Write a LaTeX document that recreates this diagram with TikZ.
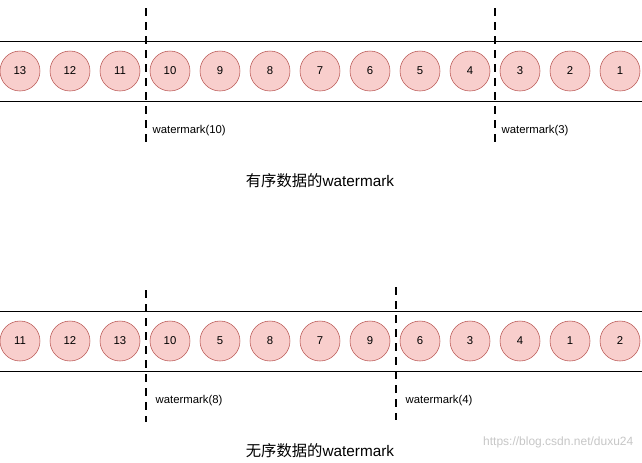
\documentclass[tikz,border=0pt]{standalone}
\usepackage{fontspec}
\setmainfont{Liberation Sans}
\newfontfamily\cjk{Noto Sans CJK SC}
\definecolor{cfill}{HTML}{F8CECC}
\definecolor{cdraw}{HTML}{B85450}
\begin{document}
\begin{tikzpicture}[x=0.75pt,y=-0.75pt,
  ball/.style={circle,draw=cdraw,fill=cfill,minimum size=30pt,inner sep=0pt,font=\fontsize{8.5}{10}\selectfont},
  wm/.style={line width=1.5pt,dash pattern=on 6pt off 4.5pt},
  lab/.style={anchor=west,font=\fontsize{8.5}{10}\selectfont},
  ttl/.style={font=\fontsize{11.5}{14}\selectfont}]
\useasboundingbox (0,0) rectangle (642,462);
\draw (0,41) -- (642,41); \draw (0,101) -- (642,101);
\draw (0,311) -- (642,311); \draw (0,371) -- (642,371);
\foreach \v [count=\i] in {13,12,11,10,9,8,7,6,5,4,3,2,1}
  \node[ball] (t\i) at ({20+50*(\i-1)},71) {\v};
\foreach \v [count=\i] in {11,12,13,10,5,8,7,9,6,3,4,1,2}
  \node[ball] (b\i) at ({20+50*(\i-1)},341) {\v};
\coordinate (a1) at (146,8); \coordinate (a2) at (146,142);
\coordinate (a3) at (495,8); \coordinate (a4) at (495,142);
\coordinate (a5) at (146,290); \coordinate (a6) at (146,422);
\coordinate (a7) at (396,287); \coordinate (a8) at (396,420);
\draw[wm] (a1) -- (a2); \draw[wm] (a3) -- (a4);
\draw[wm] (a5) -- (a6); \draw[wm] (a7) -- (a8);
\node[lab] (l1) at (148,131) {watermark(10)};
\node[lab] (l2) at (497,131) {watermark(3)};
\node[lab] (l3) at (151,401) {watermark(8)};
\node[lab] (l4) at (401,401) {watermark(4)};
\node[ttl] (s1) at (320,181) {{\cjk 有序数据的}watermark};
\node[ttl] (s2) at (320,451) {{\cjk 无序数据的}watermark};
\node[anchor=east,text=gray!45,font=\fontsize{9}{10}\selectfont] (w) at (638,442) {https://blog.csdn.net/duxu24};
\end{tikzpicture}
\end{document}
